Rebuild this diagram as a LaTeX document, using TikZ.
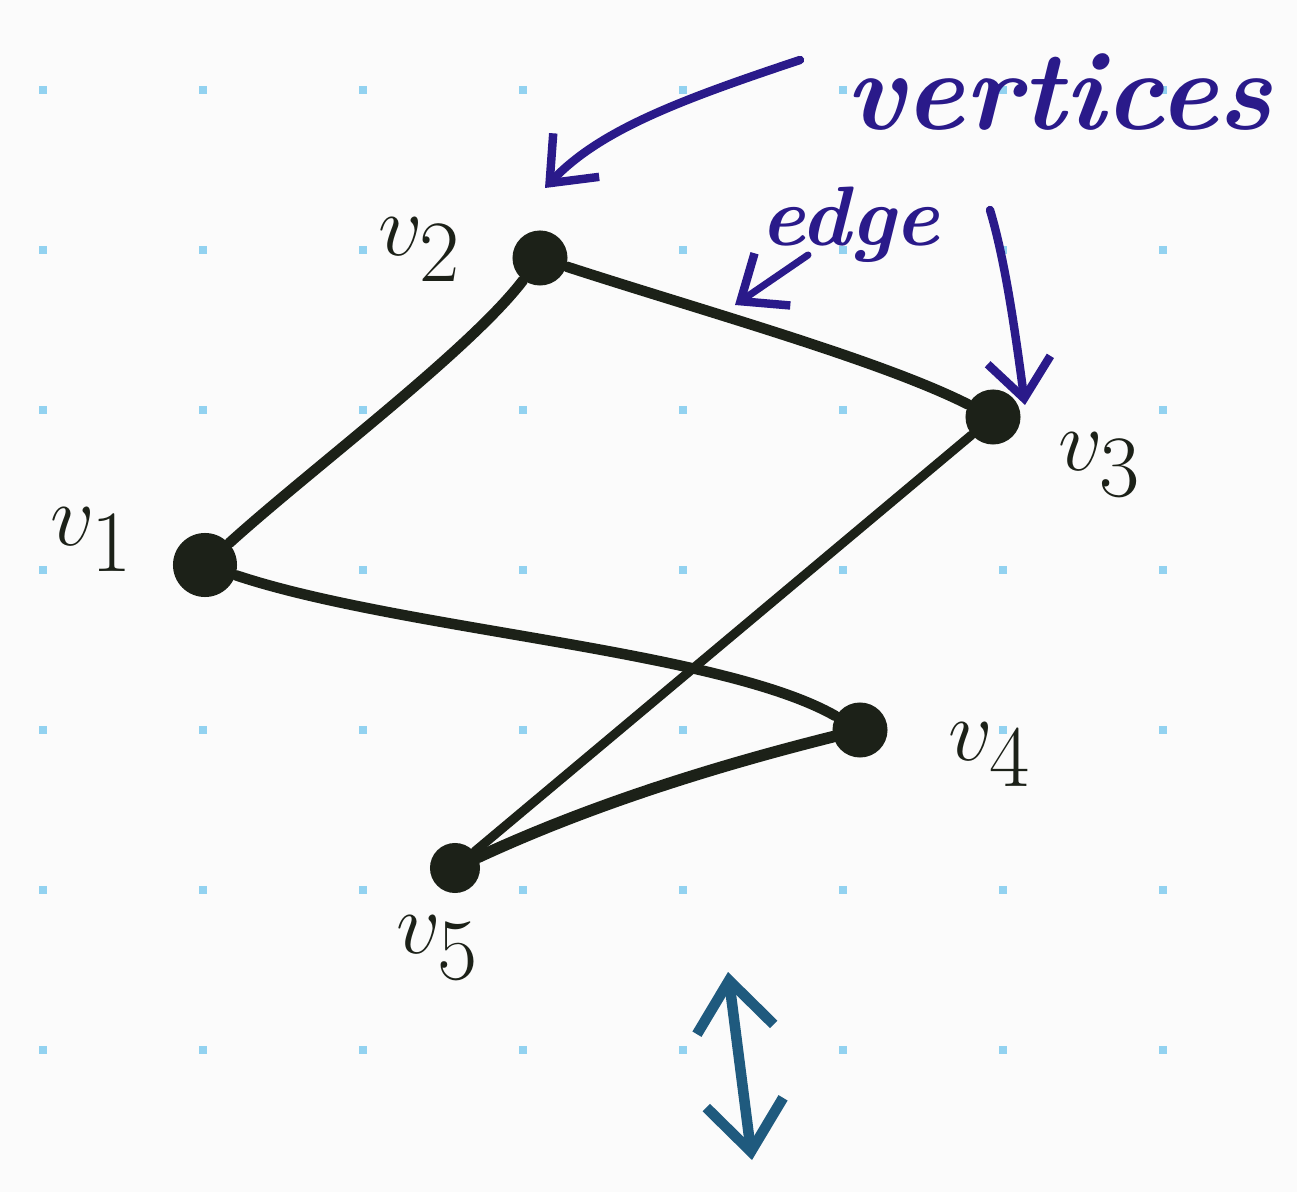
\documentclass[tikz,border=0pt]{standalone}
\usetikzlibrary{arrows.meta}
\definecolor{ink}{HTML}{1C2118}
\definecolor{penblue}{HTML}{2A1A8A}
\definecolor{teal2}{HTML}{1F5A7E}
\definecolor{griddot}{HTML}{92D2F0}
\definecolor{paper}{HTML}{FBFBFB}
\tikzset{
  vert/.style={circle, fill=ink, inner sep=0pt, minimum size=0.55cm},
  gedge/.style={draw=ink, line width=3pt, line cap=round},
  lbl/.style={text=ink, font=\fontsize{34}{36}\selectfont},
  note/.style={draw=penblue, line width=2.4pt, line cap=round, line join=round, -{Straight Barb[length=11pt,width=18pt,line width=2.4pt]}},
  notetext/.style={text=penblue, font=\fontsize{32}{34}\selectfont\itshape\bfseries},
}
\begin{document}
\begin{tikzpicture}[x=0.01cm,y=-0.01cm]
\fill[paper] (0,0) rectangle (1297,1192);
\useasboundingbox (0,0) rectangle (1297,1192);
% dot grid
\foreach \i in {0,...,7}{
  \foreach \j in {0,...,6}{
    \fill[griddot] ({43+160*\i-4},{90+160*\j-4}) rectangle ++(8,8);
  }
}
% vertices
\node[vert, minimum size=0.64cm] (v1) at (205,565) {};
\node[vert] (v2) at (540,258) {};
\node[vert] (v3) at (993,417) {};
\node[vert] (v4) at (860,730) {};
\node[vert, minimum size=0.5cm] (v5) at (455,868) {};
% edges
\draw[gedge] (v1) .. controls (310,470) and (470,350) .. (v2);
\draw[gedge] (v2) .. controls (700,310) and (880,360) .. (v3);
\draw[gedge] (v1) .. controls (400,630) and (720,650) .. (v4);
\draw[gedge, line width=2.6pt] (v3) -- (v5);
\draw[gedge, line width=3.3pt] (v4) .. controls (700,770) and (580,810) .. (v5);
% labels
\node[lbl] (l1) at (92,540) {$v_1$};
\node[lbl] (l2) at (420,250) {$v_2$};
\node[lbl] (l3) at (1100,465) {$v_3$};
\node[lbl] (l4) at (990,755) {$v_4$};
\node[lbl] (l5) at (438,948) {$v_5$};
% annotations
\node[notetext, anchor=east] (vt) at (1285,92) {vertices};
\node[text=penblue, font=\fontsize{24}{26}\selectfont\itshape\bfseries] (ed) at (850,225) {edge};
\coordinate (s1) at (800,60);
\coordinate (t1) at (545,188);
\coordinate (s2) at (990,210);
\coordinate (t2) at (1025,405);
\coordinate (s3) at (808,255);
\coordinate (t3) at (735,305);
\draw[note] (s1) .. controls (680,100) and (600,130) .. (t1);
\draw[note] (s2) .. controls (1005,260) and (1015,330) .. (t2);
\draw[note, line width=2pt] (s3) -- (t3);
% double arrow
\coordinate (d1) at (728,972);
\coordinate (d2) at (752,1160);
\draw[draw=teal2, line width=3pt, line cap=round, {Straight Barb[length=14pt,width=22pt,line width=3pt]}-{Straight Barb[length=14pt,width=22pt,line width=3pt]}] (d1) -- (d2);
\end{tikzpicture}
\end{document}
